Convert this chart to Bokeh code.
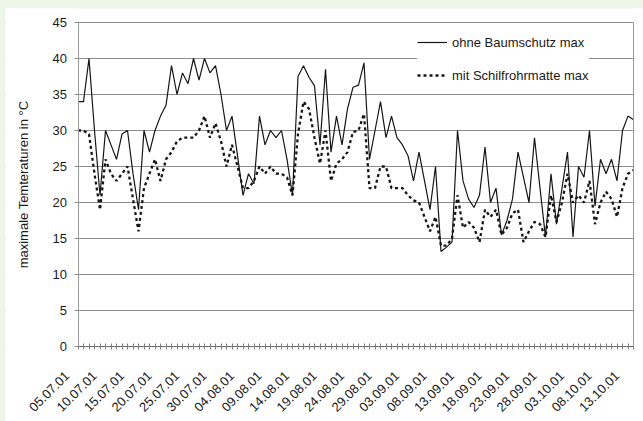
import math
from bokeh.plotting import figure
from bokeh.models import (Range1d, FixedTicker, Legend, LegendItem, BoxAnnotation,
                          LinearAxis)
from bokeh.embed import file_html
from bokeh.resources import INLINE

# daily maxima, 05.07.01 onward
solid = [34, 34, 40, 30, 21, 30, 28, 26, 29.5, 30,
         24, 19, 30, 27, 30, 32, 33.5, 39, 35, 38,
         36.5, 40, 37, 40, 38, 39, 35, 30, 32, 26.5,
         21, 24, 22.6, 32, 28, 30, 29, 30, 26, 21,
         37.5, 39, 37.4, 36.2, 28, 38.5, 27, 32, 28, 33,
         36, 36.3, 39.4, 26, 30, 34, 29, 32, 29, 28,
         26.5, 23, 27, 23, 19, 25, 13.2, 13.8, 14.5, 30,
         23, 20.5, 19.3, 21, 27.7, 20, 22, 15.5, 17.5, 20.5,
         27, 23.5, 20, 29, 22, 15.2, 24, 17, 22, 27,
         15.2, 25, 23.5, 30, 19.5, 26, 24, 26, 23, 30,
         32, 31.5]
dashed = [30, 30, 29.5, 24, 19, 26, 24, 23, 24, 25,
          20.5, 16, 22, 24, 26, 23, 26, 27, 28.5, 29,
          29, 29, 30, 32, 29, 31, 28.5, 25, 28, 25,
          22, 22, 23, 25, 24, 25, 24, 24, 23.5, 21,
          29.5, 34, 33, 29, 25.4, 30, 23, 25.4, 26, 27,
          29.8, 30, 32.3, 22, 22, 25, 25, 22, 22, 22,
          21, 20.3, 20, 18, 16, 18, 14, 14, 15, 21,
          16.5, 17.3, 16.5, 14.5, 19, 18, 19, 15.5, 16.5, 18.5,
          19, 14.5, 16, 17.3, 17, 15.2, 21, 17.3, 20, 24,
          20, 21, 20, 23, 17, 20, 21.5, 20.5, 18, 22,
          24, 24.5]
days = list(range(len(solid)))
label_pos = list(range(0, 101, 5))
labels = ["05.07.01", "10.07.01", "15.07.01", "20.07.01", "25.07.01", "30.07.01",
          "04.08.01", "09.08.01", "14.08.01", "19.08.01", "24.08.01", "29.08.01",
          "03.09.01", "08.09.01", "13.09.01", "18.09.01", "23.09.01", "28.09.01",
          "03.10.01", "08.10.01", "13.10.01"]
y_ticks = [0, 5, 10, 15, 20, 25, 30, 35, 40, 45]
series_names = ["ohne Baumschutz max", "mit Schilfrohrmatte max"]

FONT = "Liberation Sans"
GRID = "#8c8c8c"
AXIS = "#9a9a9a"
LAST = len(days) - 1
YMAX = 45

# layout (pixels inside the figure): plot area 72.5..628 x 14..338 of 638 x 413
W, H = 638, 413
PX_L, PX_R, PX_T, PX_B = 72.5, 628, 14, 338
xs = (PX_R - PX_L) / LAST
ys = (PX_B - PX_T) / YMAX
x0, x1 = -PX_L / xs, LAST + (W - PX_R) / xs
y0, y1 = -(H - PX_B) / ys, YMAX + PX_T / ys
LABEL_SHIFT = 11 / xs

p = figure(width=W, height=H, output_backend="svg", toolbar_location=None,
           x_range=Range1d(x0, x1), y_range=Range1d(y0, y1),
           min_border_left=0, min_border_right=0, min_border_top=0,
           min_border_bottom=0, x_axis_location=None, y_axis_location=None)
p.background_fill_color = "white"
p.border_fill_color = "white"
p.outline_line_color = None
p.xgrid.grid_line_color = None

# horizontal grid lines only across the plot area
yt = FixedTicker(ticks=y_ticks)
p.ygrid.ticker = yt
p.ygrid.grid_line_color = GRID
p.ygrid.grid_line_width = 1
p.add_layout(BoxAnnotation(left=x0, right=0, fill_color="white", fill_alpha=1.0,
                           line_color=None, level="glyph"))
p.add_layout(BoxAnnotation(left=LAST, right=x1, fill_color="white", fill_alpha=1.0,
                           line_color=None, level="glyph"))

r1 = p.line(days, solid, line_color="#161616", line_width=1.2)
r2 = p.line(days, dashed, line_color="#161616", line_width=2.3, line_dash="3 3")

# x axis at value 0
xa = LinearAxis(fixed_location=0, bounds=(0, LAST))
xa.ticker = FixedTicker(ticks=[d - LABEL_SHIFT for d in label_pos], minor_ticks=days)
xa.major_label_overrides = {d - LABEL_SHIFT: lab for d, lab in zip(label_pos, labels)}
xa.major_label_orientation = math.pi / 4
xa.major_label_text_font = FONT
xa.major_label_text_font_size = "13px"
xa.major_label_text_color = "#1a1a1a"
xa.major_label_standoff = 24
xa.axis_line_color = "#6f6f6f"
xa.major_tick_in = 0
xa.major_tick_out = 0
xa.minor_tick_line_color = "#808080"
xa.minor_tick_in = 3
xa.minor_tick_out = 3
p.add_layout(xa, "below")

# y axis at day 0
ya = LinearAxis(fixed_location=0, bounds=(0, YMAX))
ya.ticker = yt
ya.major_label_text_font = FONT
ya.major_label_text_font_size = "13px"
ya.major_label_text_color = "#1a1a1a"
ya.major_label_standoff = 7
ya.axis_line_color = AXIS
ya.major_tick_line_color = GRID
ya.major_tick_in = 0
ya.major_tick_out = 4
ya.minor_tick_line_color = None
ya.axis_label = "maximale Temteraturen in °C"
ya.axis_label_text_font = FONT
ya.axis_label_text_font_size = "13px"
ya.axis_label_text_font_style = "normal"
ya.axis_label_text_color = "#1a1a1a"
ya.axis_label_standoff = 19
p.add_layout(ya, "left")

# right frame line of the plot area
ra = LinearAxis(fixed_location=LAST, bounds=(0, YMAX), ticker=FixedTicker(ticks=[]))
ra.axis_line_color = AXIS
ra.major_tick_line_color = None
ra.minor_tick_line_color = None
ra.major_label_text_alpha = 0
p.add_layout(ra, "right")

legend = Legend(items=[LegendItem(label=series_names[0], renderers=[r1]),
                       LegendItem(label=series_names[1], renderers=[r2])],
                location=(412, 336))
legend.background_fill_color = "white"
legend.background_fill_alpha = 1.0
legend.border_line_color = None
legend.padding = 4
legend.spacing = 13
legend.glyph_width = 30
legend.glyph_height = 20
legend.label_height = 20
legend.label_standoff = 5
legend.label_text_font = FONT
legend.label_text_font_size = "13px"
legend.label_text_color = "#1a1a1a"
p.add_layout(legend)

html = file_html(p, INLINE)
html = html.replace("</head>",
                    "<style>html, body {background-color:#eef5e9 !important;}"
                    " body {padding:8px 0 0 5px !important;}</style></head>", 1)
open("out.html", "w").write(html)
